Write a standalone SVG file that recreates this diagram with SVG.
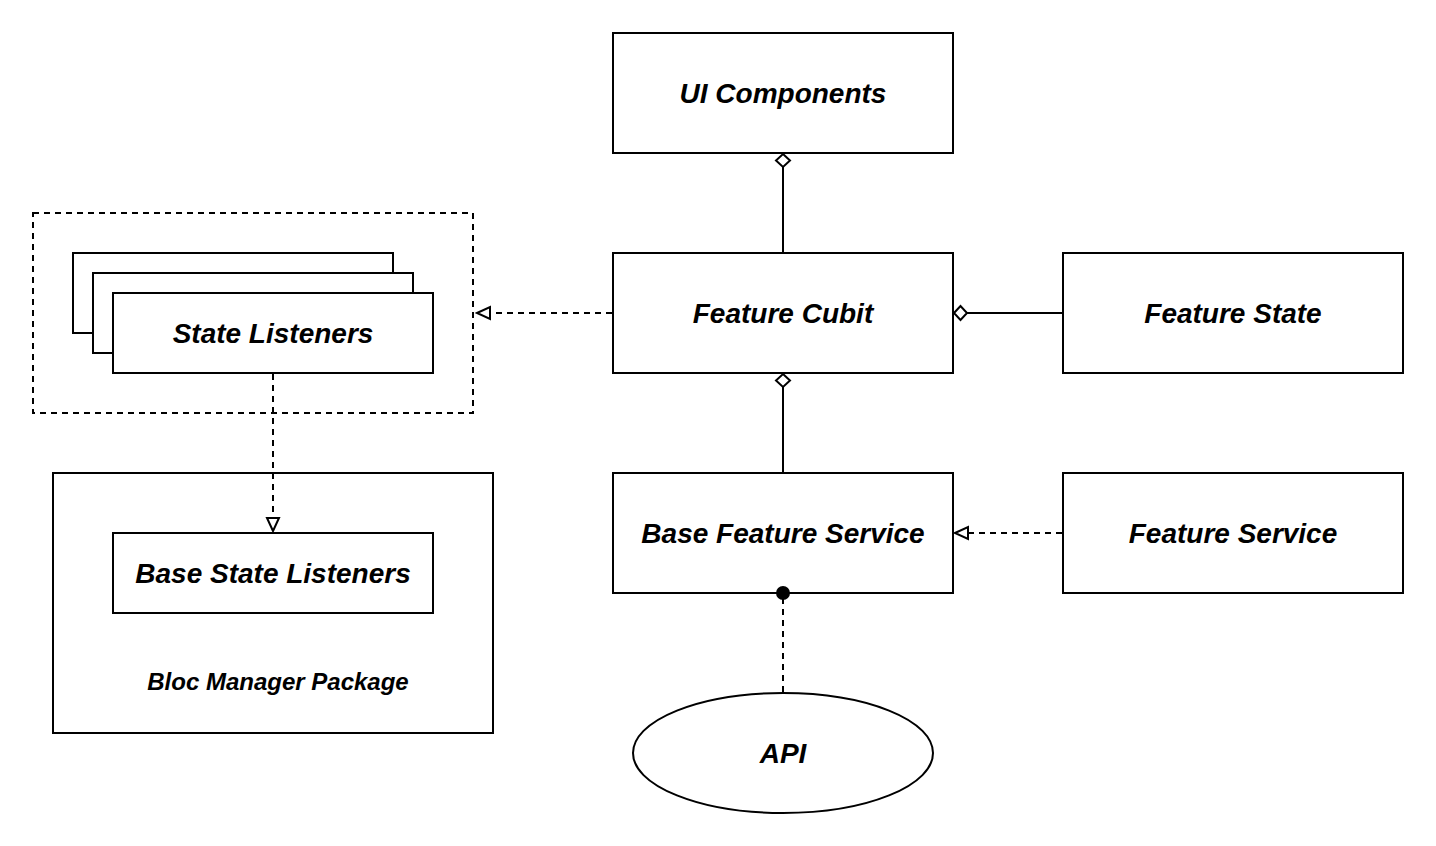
<svg xmlns="http://www.w3.org/2000/svg" width="1436" height="846" viewBox="0 0 1436 846">
<style>
.box{fill:#fff;stroke:#000;stroke-width:2}
.dbox{fill:none;stroke:#000;stroke-width:2;stroke-dasharray:6 5}
.lbl{font-family:"Liberation Sans",Arial,sans-serif;font-weight:bold;font-style:italic;font-size:28px;text-anchor:middle;fill:#000}
.small{font-size:24px}
.line{fill:none;stroke:#000;stroke-width:2}
.dash{fill:none;stroke:#000;stroke-width:2;stroke-dasharray:6 5}
.head{fill:#fff;stroke:#000;stroke-width:2;stroke-linejoin:miter}
</style>
<rect width="1436" height="846" fill="#fff"/>
<g id="ui-components">
<rect class="box" x="613" y="33" width="340" height="120"/>
<text class="lbl" x="783" y="103">UI Components</text>
</g>
<g id="feature-cubit">
<rect class="box" x="613" y="253" width="340" height="120"/>
<text class="lbl" x="783" y="323">Feature Cubit</text>
</g>
<g id="feature-state">
<rect class="box" x="1063" y="253" width="340" height="120"/>
<text class="lbl" x="1233" y="323">Feature State</text>
</g>
<g id="base-feature-service">
<rect class="box" x="613" y="473" width="340" height="120"/>
<text class="lbl" x="783" y="543">Base Feature Service</text>
</g>
<g id="feature-service">
<rect class="box" x="1063" y="473" width="340" height="120"/>
<text class="lbl" x="1233" y="543">Feature Service</text>
</g>
<g id="api">
<ellipse class="box" cx="783" cy="753" rx="150" ry="60"/>
<text class="lbl" x="783" y="763">API</text>
</g>
<g id="state-listeners">
<rect class="dbox" x="33" y="213" width="440" height="200"/>
<rect class="box" x="73" y="253" width="320" height="80"/>
<rect class="box" x="93" y="273" width="320" height="80"/>
<rect class="box" x="113" y="293" width="320" height="80"/>
<text class="lbl" x="273" y="343">State Listeners</text>
</g>
<g id="bloc-manager-package">
<rect class="box" x="53" y="473" width="440" height="260"/>
<text class="lbl small" x="278" y="690">Bloc Manager Package</text>
</g>
<g id="base-state-listeners">
<rect class="box" x="113" y="533" width="320" height="80"/>
<text class="lbl" x="273" y="583">Base State Listeners</text>
</g>
<g id="connectors">
<path class="line" d="M783,252 V167"/>
<path class="head" d="M783,154 L790,160.5 L783,167 L776,160.5 Z"/>
<path class="line" d="M1062,313 H967"/>
<path class="head" d="M954,313 L960.5,306 L967,313 L960.5,320 Z"/>
<path class="line" d="M783,472 V387"/>
<path class="head" d="M783,374 L790,380.5 L783,387 L776,380.5 Z"/>
<path class="dash" d="M612,313 H490"/>
<path class="head" d="M477,313 L490,307 L490,319 Z"/>
<path class="dash" d="M1062,533 H968"/>
<path class="head" d="M955,533 L968,527 L968,539 Z"/>
<path class="dash" d="M273,374 V518"/>
<path class="head" d="M273,531 L267,518 L279,518 Z"/>
<path class="dash" d="M783,598 V692"/>
<circle cx="783" cy="593" r="7" fill="#000"/>
</g>
</svg>
